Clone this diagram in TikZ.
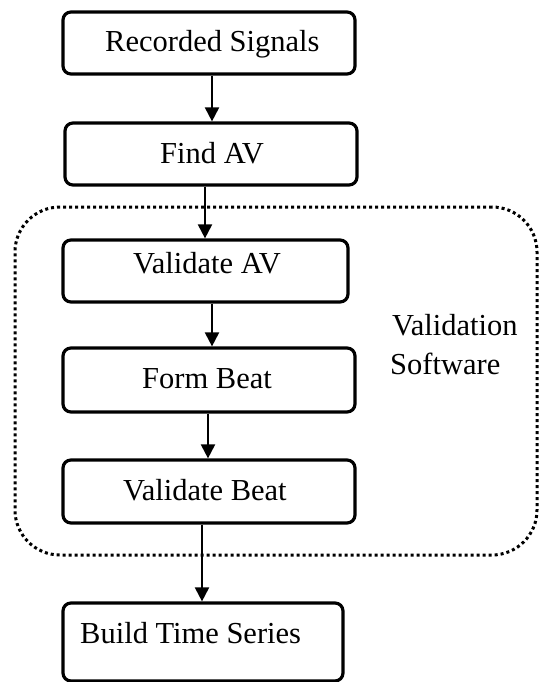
\documentclass[tikz,border=0pt]{standalone}
\usepackage{fontspec}
\setmainfont{Liberation Serif}
\usetikzlibrary{arrows.meta}
\begin{document}
\begin{tikzpicture}[x=1pt,y=-1pt,
  box/.style={draw, line width=3.2pt, rounded corners=8pt, inner sep=0pt},
  lbl/.style={font=\fontsize{30.5}{38}\selectfont, inner sep=0pt, anchor=base west},
  conn/.style={line width=2pt, -{Triangle[length=14pt,width=14pt]}},
  grpbox/.style={draw, line width=3pt, dash pattern=on 3pt off 3pt, rounded corners=45pt, inner sep=0pt},
]
\useasboundingbox (0,0) rectangle (538,682);
% group
\node[grpbox, minimum width=522pt, minimum height=348pt] (grp) at (276,381) {};
% boxes
\node[box, minimum width=292pt, minimum height=62pt] (b1) at (209,43) {};
\node[box, minimum width=292pt, minimum height=62pt] (b2) at (211,154) {};
\node[box, minimum width=285pt, minimum height=62pt] (b3) at (205.5,271) {};
\node[box, minimum width=292pt, minimum height=64pt] (b4) at (209,380) {};
\node[box, minimum width=292pt, minimum height=63pt] (b5) at (209,491.5) {};
\node[box, minimum width=280pt, minimum height=78pt] (b6) at (203,642) {};
% texts
\node[lbl] (t1) at (105,52) {Recorded Signals};
\node[lbl] (t2) at (160,163) {Find AV};
\node[lbl] (t3) at (133,273) {Validate AV};
\node[lbl] (t4) at (142,388) {Form Beat};
\node[lbl] (t5) at (123,500) {Validate Beat};
\node[lbl] (t6) at (80,643) {Build Time Series};
\node[lbl] (vs1) at (392,335) {Validation};
\node[lbl] (vs2) at (390,374) {Software};
% connectors
\draw[conn] ([xshift=3pt]b1.south) -- ([xshift=1pt]b2.north);
\draw[conn] ([xshift=-6pt]b2.south) -- ([xshift=-0.5pt]b3.north);
\draw[conn] ([xshift=6.5pt]b3.south) -- ([xshift=3pt]b4.north);
\draw[conn] ([xshift=-1pt]b4.south) -- ([xshift=-1pt]b5.north);
\draw[conn] ([xshift=-7pt]b5.south) -- ([xshift=-1pt]b6.north);
\end{tikzpicture}
\end{document}
